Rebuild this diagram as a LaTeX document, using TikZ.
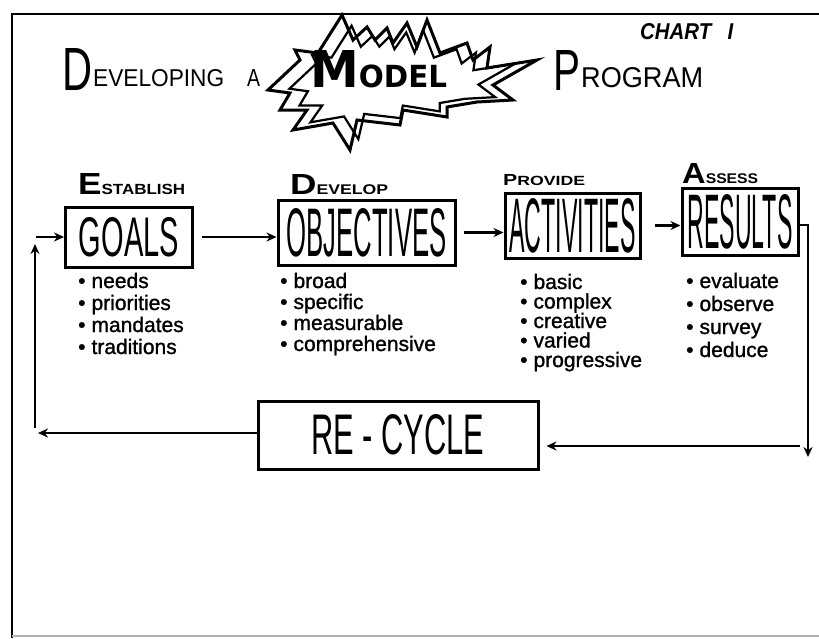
\documentclass[tikz,border=0pt]{standalone}
\usepackage{fontspec}
\setmainfont{Liberation Sans}
\newfontfamily\heavyfont{DejaVu Sans}
\newfontfamily\handfont{Liberation Sans}[FakeBold=1.2]
\usepackage{graphicx}
\usetikzlibrary{arrows.meta}
\newcommand\fitto[3]{\resizebox{#1}{#2}{#3}}
\tikzset{
  stage/.style={draw, line width=3pt, inner sep=0pt},
  conn/.style={line width=2.8pt, -{Stealth[length=10pt,width=9pt]}},
  wire/.style={line width=2.8pt},
  item/.style={anchor=base west, inner sep=0pt, font=\handfont\fontsize{21}{21}\selectfont},
  ttl/.style={anchor=base west, inner sep=0pt},
  burst/.style={line width=3pt, line join=miter},
}
\begin{document}
\begin{tikzpicture}[x=1pt,y=-1pt]
\useasboundingbox (0,0) rectangle (819,638);
% frame
\draw[wire] (12,638) -- (12,14) -- (819,14);
\draw[line width=2pt, gray!60] (12,636) -- (819,636);

% title
\node[ttl] (tD) at (62,90) {\fitto{30pt}{42pt}{D}};
\node[ttl] (tEvel) at (93,86) {\fitto{131pt}{17pt}{EVELOPING}};
\node[ttl] (tA) at (247,86) {\fitto{13pt}{17pt}{A}};
\node[ttl] (tP) at (553,90) {\fitto{27pt}{40pt}{P}};
\node[ttl] (tRog) at (581,87) {\fitto{122pt}{20pt}{ROGRAM}};
\node[ttl] (chart) at (640,39) {\fitto{93pt}{16pt}{\bfseries\itshape CHART\hspace{0.8em}I}};

% starburst
\draw[burst, fill=white] (268,90) -- (300,60) -- (295,50) -- (318,53) -- (342,15) -- (353,40) -- (367,27) -- (375,40) -- (387,28) -- (393,43) -- (407,23) -- (417,47) -- (427,20) -- (440,53) -- (467,43) -- (473,60) -- (490,47) -- (487,68) -- (537,60) -- (493,85) -- (513,100) -- (477,102) -- (447,107) -- (447,117) -- (403,110) -- (400,125) -- (357,120) -- (350,150) -- (333,123) -- (293,130) -- (307,110) -- (280,110) -- (290,93) -- cycle;
\begin{scope}[shift={(402,82)}, scale=0.84, shift={(-402,-82)}]
\draw[line width=2.2pt, line join=miter] (268,90) -- (300,60) -- (295,50) -- (318,53) -- (342,15) -- (353,40) -- (367,27) -- (375,40) -- (387,28) -- (393,43) -- (407,23) -- (417,47) -- (427,20) -- (440,53) -- (467,43) -- (473,60) -- (490,47) -- (487,68) -- (537,60) -- (493,85) -- (513,100) -- (477,102) -- (447,107) -- (447,117) -- (403,110) -- (400,125) -- (357,120) -- (350,150) -- (333,123) -- (293,130) -- (307,110) -- (280,110) -- (290,93) -- cycle;
\end{scope}
\node[ttl] (model) at (310,87) {\fitto{137pt}{37pt}{\heavyfont\bfseries M\scalebox{0.6}{ODEL}}};

% headers
\node[ttl] (hEst) at (78,194) {\fitto{107pt}{21pt}{\bfseries{\huge E}STABLISH}};
\node[ttl] (hDev) at (290,194) {\fitto{98pt}{20pt}{\bfseries{\huge D}EVELOP}};
\node[ttl] (hPro) at (503,185) {\fitto{82pt}{11pt}{\bfseries{\large P}ROVIDE}};
\node[ttl] (hAss) at (682,183) {\fitto{76pt}{20pt}{\bfseries{\huge A}SSESS}};

% stage boxes
\node[stage, minimum width=127pt, minimum height=60pt] (goals) at (129,237) {\fitto{100pt}{39pt}{GOALS}};
\node[stage, minimum width=177pt, minimum height=65pt] (obj) at (366.5,232.5) {\fitto{160pt}{48pt}{OBJECTIVES}};
\node[stage, minimum width=135pt, minimum height=65pt] (act) at (572.5,225.5) {\fitto{126pt}{54pt}{ACTIVITIES}};
\node[stage, minimum width=116pt, minimum height=67pt] (res) at (740,221.5) {\fitto{105pt}{54pt}{RESULTS}};
\node[stage, minimum width=280pt, minimum height=68pt] (recycle) at (398,435) {\fitto{173pt}{40pt}{RE - CYCLE}};

% lists
\foreach \t [count=\i] in {needs, priorities, mandates, traditions}
  \node[item] (g\i) at (78, 288+22*\i-22) {\textbullet\hspace{6pt}\t};
\foreach \t [count=\i] in {broad, specific, measurable, comprehensive}
  \node[item] (o\i) at (280, 288+21*\i-21) {\textbullet\hspace{6pt}\t};
\foreach \t [count=\i] in {basic, complex, creative, varied, progressive}
  \node[item] (a\i) at (520, 289+19.5*\i-19.5) {\textbullet\hspace{6pt}\t};
\foreach \t [count=\i] in {evaluate, observe, survey, deduce}
  \node[item] (r\i) at (686, 288+23*\i-23) {\textbullet\hspace{6pt}\t};

% connectors
\draw[conn, shorten <=8pt] (goals.east) -- (obj.west |- goals.east);
\draw[conn, shorten <=7pt] (obj.east) -- (act.west |- obj.east);
\draw[conn, shorten <=13pt] (act.east) -- (res.west |- act.east);

\coordinate (rturn) at (808,225);
\coordinate (rdown) at (808,457);
\draw[conn] (res.east |- rturn) -- (rturn) -- (rdown);
\coordinate (rback) at (800,446);
\draw[conn, shorten >=7pt] (rback) -- (recycle.east |- rback);

\coordinate (lback) at (38,433);
\draw[conn] (recycle.west |- lback) -- (lback);
\coordinate (lbot) at (35,428);
\coordinate (ltop) at (35,244);
\draw[conn] (lbot) -- (ltop);
\coordinate (lin) at (36,237);
\draw[conn] (lin) -- (goals.west);
\end{tikzpicture}
\end{document}
